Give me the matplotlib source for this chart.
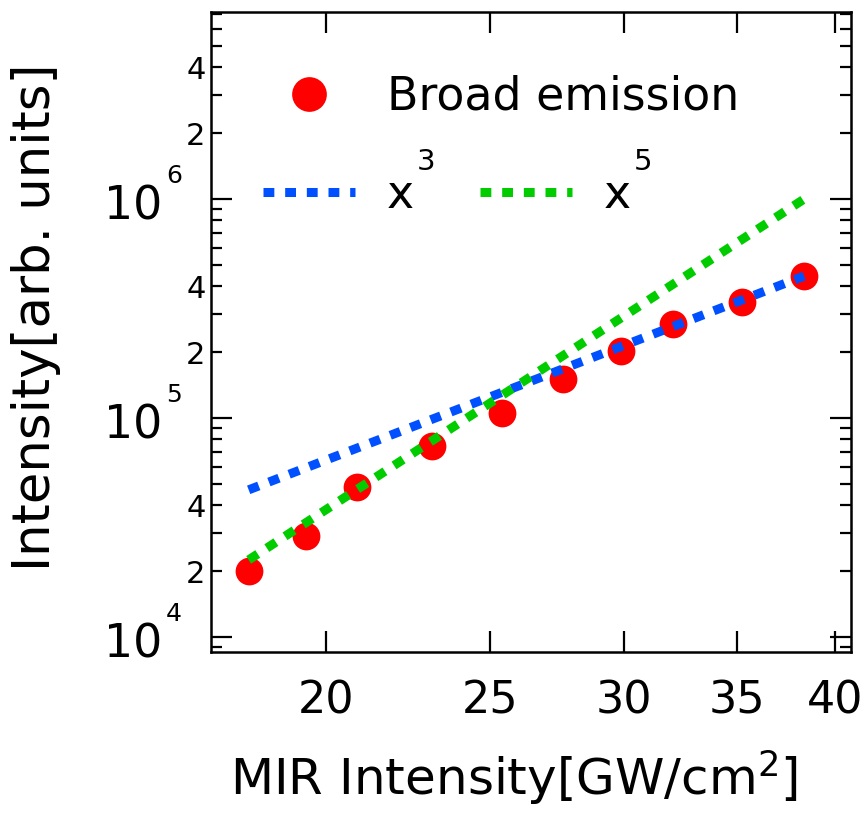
import numpy as np
import matplotlib
matplotlib.use("Agg")
import matplotlib.pyplot as plt
import matplotlib.transforms as mtransforms
from matplotlib.ticker import (FixedLocator, FuncFormatter, LogLocator,
                               NullFormatter, NullLocator)

# MIR intensity [GW/cm^2] and broad emission intensity [arb. units]
mir = [18.0, 19.45, 20.85, 23.1, 25.4, 27.6, 29.9, 32.1, 35.25, 38.35]
emission = [2.0e4, 2.9e4, 4.85e4, 7.45e4, 1.05e5, 1.5e5, 2.02e5, 2.7e5, 3.4e5, 4.45e5]

# power-law guide lines (end points)
fit_x = [18.0, 38.35]
fit_x3 = [4.7e4, 4.45e5]
fit_x5 = [2.25e4, 1.0e6]

x_ticks = [20, 25, 30, 35, 40]
y_major = [1e4, 1e5, 1e6]

plt.rcParams['font.family'] = ['DejaVu Sans']

fig = plt.figure(figsize=(8.64, 8.14), dpi=100)
ax = fig.add_axes([211 / 864, 162 / 814, 640 / 864, 640 / 814])

pts, = ax.plot(mir, emission, 'o', color='#ff0000', ms=20, mec='none', zorder=2)
l3, = ax.plot(fit_x, fit_x3, color='#0050ff', lw=6.5, dashes=(1.2, 1.2), zorder=3)
l5, = ax.plot(fit_x, fit_x5, color='#00cc00', lw=6.5, dashes=(1.2, 1.2), zorder=3)

ax.set_xscale('log')
ax.set_yscale('log')
ax.set_xlim(17.1, 40.88)
ax.set_ylim(8.54e3, 7.15e6)

ax.xaxis.set_major_locator(FixedLocator(x_ticks))
ax.xaxis.set_major_formatter(FuncFormatter(lambda v, p: f"{v:g}"))
ax.xaxis.set_minor_locator(NullLocator())

ax.yaxis.set_major_locator(FixedLocator(y_major))
ax.yaxis.set_major_formatter(NullFormatter())
ax.yaxis.set_minor_locator(LogLocator(base=10, subs=np.arange(2, 10), numticks=20))


def minor_fmt(v, p):
    m = v / 10 ** np.floor(np.log10(v) + 1e-9)
    return f"{m:.0f}" if round(m) in (2, 4) else ""


ax.yaxis.set_minor_formatter(FuncFormatter(minor_fmt))

# decade labels drawn as "10" with a raised exponent
trans = ax.get_yaxis_transform()
base_tr = mtransforms.offset_copy(trans, fig=fig, x=0, y=-8, units='dots')
exp_tr = mtransforms.offset_copy(trans, fig=fig, x=0, y=23, units='dots')
for v in y_major:
    ax.text(-0.0766, v, "10", transform=base_tr, ha='right', va='center',
            fontsize=33, clip_on=False)
    ax.text(-0.0703, v, f"{round(np.log10(v))}", transform=exp_tr, ha='left',
            va='center', fontsize=18, clip_on=False)

for s in ax.spines.values():
    s.set_linewidth(1.8)
ax.tick_params(which='both', direction='in', top=True, right=True, width=1.6)
ax.tick_params(axis='x', which='major', length=15, labelsize=32, pad=20)
ax.tick_params(axis='y', which='major', length=15)
ax.tick_params(axis='y', which='minor', length=8, labelsize=22, pad=4)

ax.set_xlabel(r"MIR Intensity[GW/cm$^{\mathregular{2}}$]", fontsize=36)
ax.xaxis.set_label_coords(0.473, -0.15)
ax.set_ylabel("Intensity[arb. units]", fontsize=37)
ax.yaxis.set_label_coords(-0.235, 0.523)

leg1 = ax.legend([pts], ["Broad emission"], loc='center left',
                 bbox_to_anchor=(0.081, 0.867), frameon=False, fontsize=33,
                 borderpad=0, borderaxespad=0, handlelength=2.0,
                 handletextpad=0.7, markerscale=1.25)
ax.add_artist(leg1)
leg2 = ax.legend([l3, l5], ["x", "x"], loc='center left',
                 bbox_to_anchor=(0.081, 0.7125), frameon=False, fontsize=33,
                 ncol=2, borderpad=0, borderaxespad=0, handlelength=2.0,
                 handletextpad=0.7, columnspacing=1.45)

# exponents of the legend labels, placed above-right of each "x"
fig.canvas.draw()
renderer = fig.canvas.get_renderer()
for t, sup in zip(leg2.get_texts(), ["3", "5"]):
    bb = t.get_window_extent(renderer)
    fig.text(bb.x1 + 3, bb.y1 + 4, sup, transform=mtransforms.IdentityTransform(),
             fontsize=21, va='baseline')

fig.savefig("out.png", dpi=100)
